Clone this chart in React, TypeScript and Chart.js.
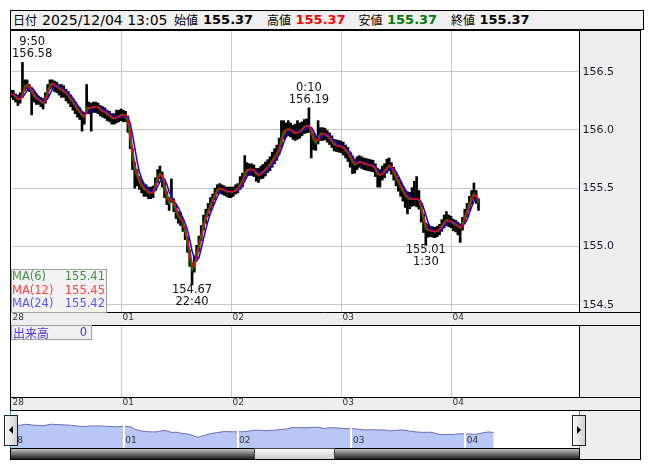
import React, { useEffect, useRef } from "react";
import { Chart, registerables } from "chart.js";
Chart.register(...registerables);

const FONT = "'DejaVu Sans', 'Noto Sans CJK JP', sans-serif";
const CJK = "'Noto Sans CJK JP', 'DejaVu Sans', sans-serif";
const GRAY = "#eeeeee";

// ---------- data ----------
const dayLabels = ["28", "01", "02", "03", "04"];
const dayTicks = [0, 48, 96, 144, 192]; // 30-minute bars, day starts 7:00
const yTicks = [154.5, 155.0, 155.5, 156.0, 156.5];

const closes = [
  156.31, 156.30, 156.28, 156.26, 156.27, 156.31, 156.38, 156.39, 156.36, 156.33,
  156.29, 156.27, 156.26, 156.24, 156.23, 156.27, 156.33, 156.39, 156.40, 156.38,
  156.37, 156.35, 156.34, 156.33, 156.31, 156.29, 156.26, 156.23, 156.20, 156.17,
  156.15, 156.12, 156.11, 156.19, 156.19, 156.19, 156.20, 156.20, 156.19, 156.17,
  156.16, 156.15, 156.13, 156.12, 156.10, 156.10, 156.11, 156.12, 156.13, 156.13,
  156.12, 156.06, 155.92, 155.76, 155.66, 155.60, 155.55, 155.52, 155.49, 155.48,
  155.46, 155.46, 155.47, 155.53, 155.60, 155.63, 155.59, 155.50, 155.42, 155.37,
  155.43, 155.36, 155.30, 155.25, 155.24, 155.19, 155.12, 155.02, 154.91, 154.80,
  154.86, 154.94, 155.02, 155.11, 155.20, 155.26, 155.31, 155.36, 155.40, 155.45,
  155.49, 155.50, 155.49, 155.48, 155.47, 155.47, 155.47, 155.47, 155.49, 155.50,
  155.54, 155.57, 155.63, 155.66, 155.66, 155.66, 155.65, 155.62, 155.61, 155.63,
  155.645, 155.665, 155.685, 155.71, 155.74, 155.77, 155.80, 155.85, 155.92, 155.99,
  156.00, 156.01, 156.00, 155.98, 155.97, 155.98, 155.99, 156.01, 156.03, 156.035,
  156.04, 155.97, 155.92, 155.885, 155.94, 155.97, 155.97, 155.965, 155.945, 155.925,
  155.90, 155.87, 155.865, 155.86, 155.855, 155.845, 155.82, 155.80, 155.76, 155.725,
  155.70, 155.72, 155.73, 155.72, 155.71, 155.705, 155.70, 155.695, 155.69, 155.66,
  155.62, 155.61, 155.63, 155.65, 155.68, 155.70, 155.67, 155.63, 155.58, 155.545,
  155.51, 155.47, 155.435, 155.42, 155.405, 155.405, 155.41, 155.41, 155.40, 155.31,
  155.22, 155.15, 155.14, 155.135, 155.13, 155.125, 155.135, 155.15, 155.18, 155.21,
  155.23, 155.22, 155.21, 155.195, 155.185, 155.17, 155.155, 155.20, 155.26, 155.31,
  155.37, 155.42, 155.455, 155.42, 155.37,
];
// upper / lower wick distance from close, in 0.01
const hiOff = [
  3, 4, 3, 4, 5, 27, 5, 4, 3, 3,
  4, 4, 3, 4, 4, 5, 6, 4, 3, 4,
  4, 4, 5, 5, 4, 4, 4, 4, 4, 4,
  4, 4, 4, 20, 5, 4, 4, 4, 4, 4,
  4, 4, 4, 4, 4, 4, 6, 5, 5, 4,
  4, 6, 8, 8, 6, 6, 5, 5, 5, 5,
  5, 5, 5, 6, 6, 6, 5, 5, 5, 5,
  15, 5, 5, 5, 5, 5, 5, 6, 6, 6,
  6, 7, 7, 7, 7, 6, 6, 6, 5, 5,
  4, 4, 4, 4, 4, 4, 4, 4, 4, 4,
  6, 6, 15, 6, 5, 5, 5, 5, 6, 6,
  6, 6, 6, 6, 7, 7, 7, 8, 16, 9,
  6, 7, 6, 6, 8, 10, 7, 6, 6, 6,
  15, 5, 5, 6, 14, 5, 5, 5, 5, 5,
  5, 5, 5, 5, 5, 5, 5, 5, 5, 5,
  5, 5, 5, 5, 5, 5, 5, 5, 5, 5,
  5, 5, 6, 6, 7, 6, 5, 5, 5, 5,
  5, 5, 5, 5, 6, 10, 15, 19, 8, 6,
  6, 5, 5, 4, 4, 4, 4, 4, 5, 6,
  7, 5, 5, 4, 4, 4, 4, 5, 6, 6,
  6, 6, 9, 6, 4,
];
const loOff = [
  3, 4, 4, 5, 4, 3, 4, 4, 3, 20,
  5, 5, 4, 4, 5, 4, 5, 4, 4, 5,
  5, 5, 6, 5, 6, 6, 6, 6, 6, 6,
  6, 13, 6, 5, 5, 20, 5, 5, 5, 5,
  5, 5, 5, 5, 5, 5, 5, 5, 5, 6,
  5, 8, 8, 10, 16, 8, 6, 6, 6, 5,
  5, 5, 5, 5, 5, 5, 8, 8, 6, 6,
  5, 6, 6, 5, 6, 6, 6, 7, 8, 13,
  8, 6, 6, 6, 6, 6, 5, 5, 5, 5,
  4, 4, 4, 4, 4, 5, 5, 4, 4, 4,
  5, 6, 6, 5, 5, 5, 5, 6, 6, 5,
  6, 6, 5, 6, 6, 6, 6, 6, 7, 7,
  6, 6, 6, 6, 6, 6, 6, 6, 6, 6,
  6, 21, 9, 6, 6, 6, 6, 5, 5, 5,
  5, 5, 5, 5, 5, 6, 6, 7, 8, 10,
  7, 6, 5, 5, 5, 5, 5, 5, 5, 6,
  11, 10, 6, 6, 5, 5, 5, 6, 6, 7,
  8, 8, 10, 14, 8, 6, 6, 7, 8, 10,
  10, 14, 6, 5, 5, 5, 5, 5, 5, 5,
  5, 5, 5, 6, 6, 7, 12, 6, 6, 6,
  6, 6, 5, 5, 6,
];

const maPeriods = [6, 12, 24]; // in 5-minute bars
const maColors = ["#008000", "#ff0000", "#0000ff"];
const maLegendColors = ["#4a8a4a", "#ff4040", "#5555ff"];
const maLastValues = [155.41, 155.45, 155.42];

const headerDate = "2025/12/04 13:05";
const headerLabels = ["始値", "高値", "安値", "終値"];
const headerValues = [155.37, 155.37, 155.37, 155.37];
const headerValueColors = ["#000", "#ff0000", "#007a00", "#000"];

const annotations = [
  { idx: 5, kind: "high", time: "9:50" },
  { idx: 130, kind: "high", time: "0:10" },
  { idx: 79, kind: "low", time: "22:40" },
  { idx: 181, kind: "low", time: "1:30" },
];
const volumeLabel = "出来高";
const volumeLast = 0;

// ---------- derived ----------
const highs = closes.map((c, i) => Math.round((c + hiOff[i] / 100) * 1000) / 1000);
const lows = closes.map((c, i) => Math.round((c - loOff[i] / 100) * 1000) / 1000);
const BAR_MIN = 30;
const BASE_MIN = 5;
function sma(values: number[], n: number) {
  return values.map((_, i) => {
    const s = Math.max(0, i - n + 1);
    let sum = 0;
    for (let k = s; k <= i; k++) sum += values[k];
    return sum / (i - s + 1);
  });
}
const maSeries = maPeriods.map((p) => sma(closes, Math.max(1, Math.round((p * BASE_MIN) / BAR_MIN))));

const X_MAX_MAIN = 247.85;
const X_MAX_NAV = 240;

const panelPlugin = {
  id: "panelPlugin",
  beforeDraw(chart: any) {
    const { ctx, chartArea: a, width: w, height: h } = chart;
    ctx.save();
    ctx.fillStyle = "#fff";
    ctx.fillRect(0, 0, w, h);
    ctx.fillStyle = GRAY;
    ctx.fillRect(a.right, 0, w - a.right, a.bottom);
    ctx.fillRect(0, a.bottom, w, h - a.bottom);
    ctx.restore();
  },
  afterDraw(chart: any) {
    const { ctx, chartArea: a, width: w, height: h } = chart;
    ctx.save();
    ctx.strokeStyle = "#000";
    ctx.lineWidth = 1;
    ctx.beginPath();
    ctx.moveTo(a.right + 0.5, 0);
    ctx.lineTo(a.right + 0.5, a.bottom);
    ctx.moveTo(0, a.bottom + 0.5);
    ctx.lineTo(w, a.bottom + 0.5);
    ctx.moveTo(0, h - 0.5);
    ctx.lineTo(w, h - 0.5);
    ctx.moveTo(0.5, 0);
    ctx.lineTo(0.5, h);
    ctx.moveTo(w - 0.5, 0);
    ctx.lineTo(w - 0.5, h);
    ctx.stroke();
    ctx.restore();
  },
};

const annotationPlugin = {
  id: "annotationPlugin",
  afterDatasetsDraw(chart: any) {
    const { ctx, chartArea: a } = chart;
    const x = chart.scales.x;
    const y = chart.scales.y;
    ctx.save();
    ctx.font = `11.5px ${FONT}`;
    ctx.fillStyle = "#111";
    ctx.textAlign = "center";
    ctx.textBaseline = "middle";
    annotations.forEach((an) => {
      const v = an.kind === "high" ? highs[an.idx] : lows[an.idx];
      const vs = v.toFixed(2);
      const w = Math.max(ctx.measureText(vs).width, ctx.measureText(an.time).width);
      let px = x.getPixelForValue(an.idx);
      px = Math.min(Math.max(px, a.left + w / 2 + 1), a.right - w / 2 - 1);
      const py = y.getPixelForValue(v);
      if (an.kind === "high") {
        ctx.fillText(an.time, px, py - 20);
        ctx.fillText(vs, px, py - 8);
      } else {
        ctx.fillText(vs, px, py + 5);
        ctx.fillText(an.time, px, py + 17);
      }
    });
    ctx.restore();
  },
};

function zeroPad(scale: any) {
  scale.paddingTop = 0;
  scale.paddingBottom = 0;
  scale.paddingLeft = 0;
  scale.paddingRight = 0;
}

function dayAxis(xMax: number) {
  return {
    type: "linear",
    min: 0,
    max: xMax,
    offset: false,
    afterBuildTicks(scale: any) {
      scale.ticks = dayTicks.map((v) => ({ value: v }));
    },
    afterFit(scale: any) {
      scale.height = 14;
      zeroPad(scale);
    },
    grid: {
      color: (c: any) => (c.tick && c.tick.value === 0 ? "rgba(0,0,0,0)" : "#c8c8c8"),
      drawTicks: false,
      offset: false,
    },
    border: { display: false },
    ticks: {
      autoSkip: false,
      maxRotation: 0,
      minRotation: 0,
      align: "start",
      padding: 0,
      labelOffset: 1.5,
      color: "#333",
      font: { family: FONT, size: 9 },
      callback: (_v: any, i: number) => dayLabels[i],
    },
  };
}

function MainChart() {
  const ref = useRef<HTMLCanvasElement>(null);
  useEffect(() => {
    const chart = new Chart(ref.current as HTMLCanvasElement, {
      type: "line",
      data: {
        datasets: [
          {
            type: "bar",
            data: closes.map((_, i) => ({ x: i, y: [lows[i], highs[i]] })),
            backgroundColor: "#000",
            borderWidth: 0,
            barThickness: 2,
            order: 10,
          } as any,
          ...maSeries.map((s, k) => ({
            type: "line",
            data: s.map((v, i) => ({ x: i, y: v })),
            borderColor: maColors[k],
            borderWidth: 1.5,
            pointRadius: 0,
            fill: false,
            tension: 0,
            order: [3, 1, 2][k],
          })),
        ],
      },
      options: {
        animation: false,
        responsive: false,
        events: [],
        layout: { padding: { left: 1, top: 0, right: 0, bottom: 0 } },
        plugins: { legend: { display: false }, tooltip: { enabled: false } },
        scales: {
          x: dayAxis(X_MAX_MAIN) as any,
          y: {
            type: "linear",
            position: "right",
            min: 154.438,
            max: 156.858,
            afterBuildTicks(scale: any) {
              scale.ticks = yTicks.map((v) => ({ value: v }));
            },
            afterFit(scale: any) {
              scale.width = 62;
              zeroPad(scale);
            },
            grid: { color: "#c8c8c8", drawTicks: false },
            border: { display: false },
            ticks: {
              padding: 3.5,
              color: "#1a1a2a",
              font: { family: FONT, size: 11 },
              callback: (v: any) => Number(v).toFixed(1),
            },
          },
        },
      },
      plugins: [panelPlugin, annotationPlugin],
    } as any);
    return () => chart.destroy();
  }, []);
  return <canvas ref={ref} width={631} height={296} style={{ position: "absolute", left: 10, top: 30 }} />;
}

function VolumeChart() {
  const ref = useRef<HTMLCanvasElement>(null);
  useEffect(() => {
    const chart = new Chart(ref.current as HTMLCanvasElement, {
      type: "line",
      data: { datasets: [] },
      options: {
        animation: false,
        responsive: false,
        events: [],
        layout: { padding: { left: 1, top: 0, right: 0, bottom: 0 } },
        plugins: { legend: { display: false }, tooltip: { enabled: false } },
        scales: {
          x: dayAxis(X_MAX_MAIN) as any,
          y: {
            type: "linear",
            position: "right",
            min: 0,
            max: 1,
            afterFit(scale: any) {
              scale.width = 62;
              zeroPad(scale);
            },
            grid: { display: false },
            border: { display: false },
            ticks: { display: false },
          },
        },
      },
      plugins: [panelPlugin],
    } as any);
    return () => chart.destroy();
  }, []);
  return <canvas ref={ref} width={631} height={85} style={{ position: "absolute", left: 10, top: 326 }} />;
}

const navPlugin = {
  id: "navPlugin",
  beforeDraw(chart: any) {
    const { ctx, width, height } = chart;
    ctx.save();
    ctx.fillStyle = "#fff";
    ctx.fillRect(0, 0, width, height);
    ctx.restore();
  },
  afterDatasetsDraw(chart: any) {
    const { ctx, chartArea: a } = chart;
    const x = chart.scales.x;
    ctx.save();
    ctx.strokeStyle = "#fff";
    ctx.lineWidth = 2;
    dayTicks.forEach((v) => {
      if (v === 0) return;
      const px = Math.round(x.getPixelForValue(v));
      ctx.beginPath();
      ctx.moveTo(px, a.top);
      ctx.lineTo(px, a.bottom);
      ctx.stroke();
    });
    ctx.fillStyle = "#333";
    ctx.font = `9px ${FONT}`;
    ctx.textAlign = "left";
    ctx.textBaseline = "middle";
    dayTicks.forEach((v, i) => {
      const px = x.getPixelForValue(v);
      ctx.fillText(dayLabels[i], px + 1.5, 29.5);
    });
    ctx.restore();
  },
};

function NavChart() {
  const ref = useRef<HTMLCanvasElement>(null);
  useEffect(() => {
    const chart = new Chart(ref.current as HTMLCanvasElement, {
      type: "line",
      data: {
        datasets: [
          {
            data: closes.map((v, i) => ({ x: i, y: v })),
            borderColor: "#6a6ab6",
            borderWidth: 1,
            backgroundColor: "#b8c7f6",
            fill: "start",
            pointRadius: 0,
            tension: 0,
          },
        ],
      },
      options: {
        animation: false,
        responsive: false,
        events: [],
        layout: { padding: 0 },
        plugins: { legend: { display: false }, tooltip: { enabled: false } },
        scales: {
          x: { type: "linear", min: 0, max: X_MAX_NAV, display: false },
          y: { type: "linear", min: 153.47, max: 158.04, display: false },
        },
      },
      plugins: [navPlugin],
    } as any);
    return () => chart.destroy();
  }, []);
  return <canvas ref={ref} width={569} height={37} style={{ position: "absolute", left: 10, top: 411 }} />;
}

const headerX = [2, 31, 163, 192, 256, 284.5, 347.5, 376, 440, 468.5];

function Header() {
  const items: any[] = [];
  items.push({ t: "日付", cjk: true, color: "#000" });
  items.push({ t: headerDate, cjk: false, color: "#000" });
  headerLabels.forEach((l, i) => {
    items.push({ t: l, cjk: true, color: "#000" });
    items.push({ t: headerValues[i].toFixed(2), cjk: false, bold: true, color: headerValueColors[i] });
  });
  return (
    <div
      style={{
        position: "absolute",
        left: 10,
        top: 10,
        width: 634,
        height: 20,
        boxSizing: "border-box",
        border: "1px solid #000",
        background: "#f0f0f0",
        overflow: "hidden",
        whiteSpace: "nowrap",
      }}
    >
      {items.map((it, i) => (
        <span
          key={i}
          style={{
            position: "absolute",
            left: headerX[i],
            top: 0,
            lineHeight: "18px",
            height: 18,
            color: it.color,
            fontFamily: it.cjk ? CJK : FONT,
            fontSize: it.cjk ? 12 : it.bold ? 13 : 14,
            fontWeight: it.bold ? "bold" : "normal",
          }}
        >
          {it.t}
        </span>
      ))}
    </div>
  );
}

function MALegend() {
  return (
    <div
      style={{
        position: "absolute",
        left: 11,
        top: 269,
        width: 96,
        height: 44,
        boxSizing: "border-box",
        border: "1px solid #a0a0a0",
        background: "rgba(242,242,242,0.92)",
        fontFamily: FONT,
        fontSize: 11.5,
        lineHeight: "13.5px",
        padding: "0 1px 0 0",
      }}
    >
      {maPeriods.map((p, k) => (
        <div key={k} style={{ display: "flex", justifyContent: "space-between", color: maLegendColors[k] }}>
          <span>{`MA(${p})`}</span>
          <span>{maLastValues[k].toFixed(2)}</span>
        </div>
      ))}
    </div>
  );
}

function VolumeLegend() {
  return (
    <div
      style={{
        position: "absolute",
        left: 11,
        top: 325,
        width: 81,
        height: 15,
        boxSizing: "border-box",
        border: "1px solid #a0a0a0",
        background: "#f0f0f0",
        color: "#5530d0",
        display: "flex",
        justifyContent: "space-between",
        alignItems: "center",
        padding: "0 4px 0 1px",
        lineHeight: "13px",
      }}
    >
      <span style={{ fontFamily: CJK, fontSize: 12 }}>{volumeLabel}</span>
      <span style={{ fontFamily: FONT, fontSize: 11.5 }}>{volumeLast}</span>
    </div>
  );
}

function NavButton({ left, dir }: { left: number; dir: "l" | "r" }) {
  return (
    <div
      style={{
        position: "absolute",
        left,
        top: 415,
        width: 14,
        height: 31,
        boxSizing: "border-box",
        border: "1px solid #222",
        background: "linear-gradient(to right, #fbfbfb, #cfcfcf)",
      }}
    >
      <div
        style={{
          position: "absolute",
          left: 4,
          top: 10,
          width: 0,
          height: 0,
          borderTop: "4px solid transparent",
          borderBottom: "4px solid transparent",
          ...(dir === "l" ? { borderRight: "4px solid #000" } : { borderLeft: "4px solid #000" }),
        }}
      />
    </div>
  );
}

export default function App() {
  return (
    <div style={{ position: "absolute", left: 0, top: 0, width: 653, height: 470, background: "#fff", overflow: "hidden" }}>
      <Header />
      <MainChart />
      <VolumeChart />
      <NavChart />
      <MALegend />
      <VolumeLegend />
      {/* right gray panel beside navigator */}
      <div style={{ position: "absolute", left: 580, top: 411, width: 60, height: 48, background: GRAY }} />
      {/* scrollbar */}
      <div
        style={{
          position: "absolute",
          left: 10,
          top: 448,
          width: 570,
          height: 12,
          boxSizing: "border-box",
          border: "1px solid #000",
          background: "linear-gradient(to bottom, #c4c4c4, #1e1e1e)",
        }}
      />
      <div
        style={{
          position: "absolute",
          left: 254,
          top: 448,
          width: 81,
          height: 12,
          boxSizing: "border-box",
          border: "1px solid #444",
          background: "linear-gradient(to bottom, #fcfcfc, #cacaca)",
        }}
      />
      {/* outer frame */}
      <div
        style={{
          position: "absolute",
          left: 10,
          top: 30,
          width: 631,
          height: 430,
          boxSizing: "border-box",
          border: "1px solid #000",
          pointerEvents: "none",
        }}
      />
      {/* visible-window markers */}
      <div style={{ position: "absolute", left: 10, top: 411, width: 1, height: 37, background: "#1aa6e0" }} />
      <div style={{ position: "absolute", left: 579, top: 411, width: 1, height: 37, background: "#1aa6e0" }} />
      <NavButton left={4} dir="l" />
      <NavButton left={572} dir="r" />
    </div>
  );
}
